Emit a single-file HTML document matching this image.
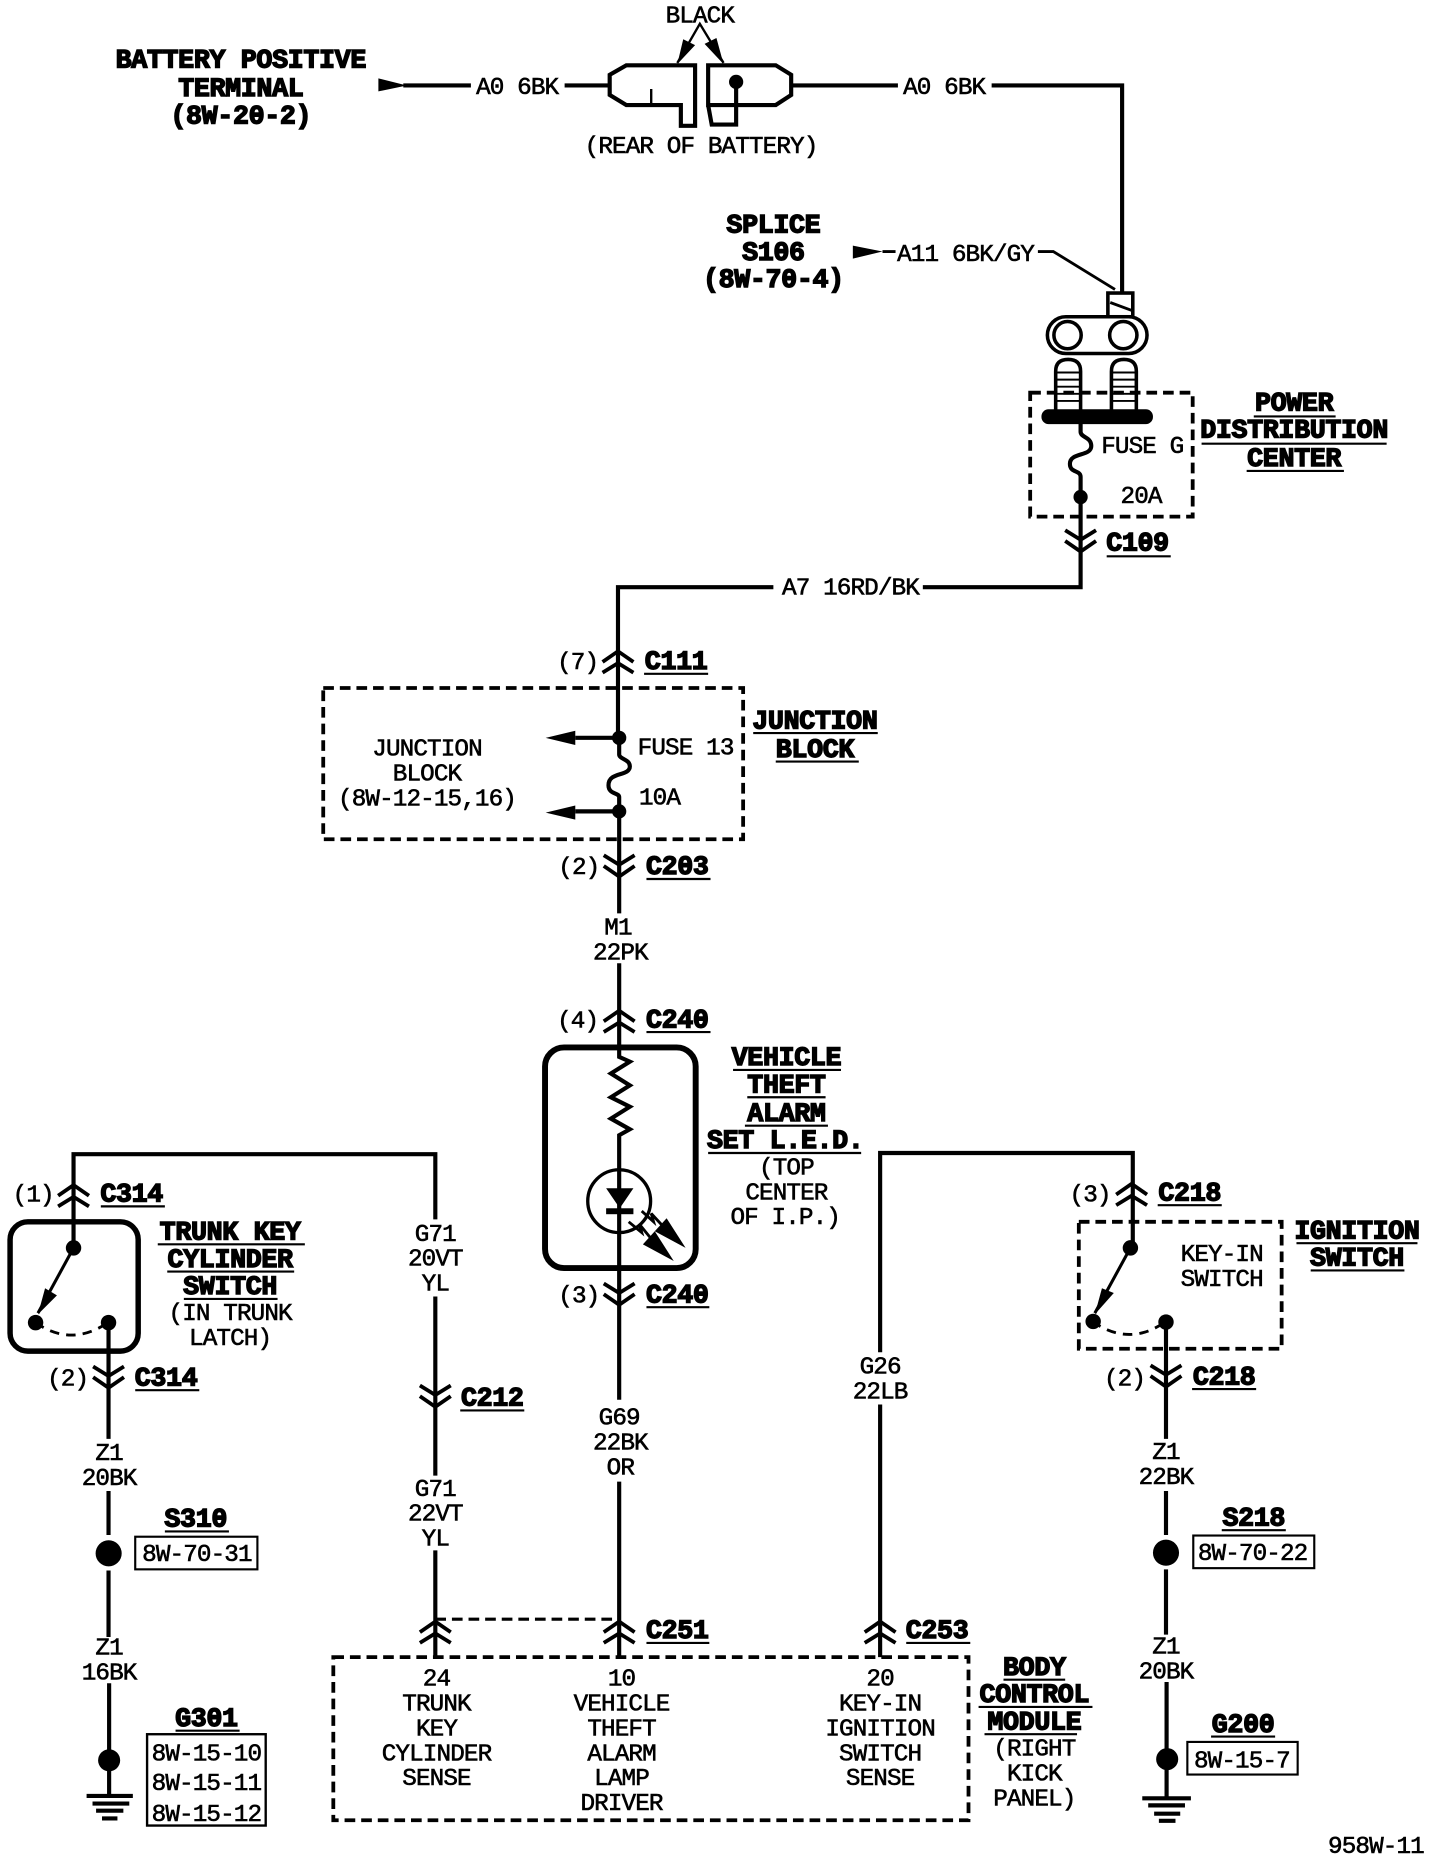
<!DOCTYPE html>
<html><head><meta charset="utf-8"><style>
html,body{margin:0;padding:0;background:#fff}
svg{display:block}
text{font-family:"Liberation Mono",monospace;text-anchor:middle;fill:#000}
.t{font-size:20.5px;stroke:#000;stroke-width:.5px;letter-spacing:-.75px}
.b{font-size:22.5px;font-weight:bold;stroke:#000;stroke-width:1.2px;letter-spacing:-.3px;transform:translateY(-1px)}
.w{fill:none;stroke:#000;stroke-width:3.5}
.k{fill:#000;stroke:none}
.h{fill:none;stroke:#000;stroke-width:3.2;stroke-dasharray:9 5}
.u{fill:none;stroke:#000;stroke-width:1.8}
</style></head><body>
<svg width="1440" height="1860" viewBox="0 0 1214 1568" xmlns="http://www.w3.org/2000/svg">
<defs>
<path id="d" d="M-13,-10 L0,-2 L13,-10 M-13,-1 L0,8 L13,-1" fill="none" stroke="#000" stroke-width="3.2"/>
<path id="p" d="M-13,10 L0,2 L13,10 M-13,1 L0,-8 L13,1" fill="none" stroke="#000" stroke-width="3.2"/>
</defs>

<!-- wires -->
<path class="w" d="M340 72H397M476 72H514M668 72H757M836 72H946V247"/>
<path class="k" d="M319 66L343 72L319 77Z"/>
<path class="w" d="M514 63L528 55H586V106H574V88.5H528L514 80Z"/>
<path class="w" d="M549 75V88" style="stroke-width:2"/>
<path class="w" d="M597 55H654L667 63V80L654 88.5H597ZM597 88.5L600 105H620.6V69"/>
<circle class="k" cx="620.6" cy="69" r="6"/>
<path class="w" d="M571 53L590 20L610 53" style="stroke-width:2"/>
<path class="k" d="M571 54L576 33L586 38ZM610 54L594 37L604 32Z"/>

<path class="k" d="M719 207L744 212L719 218Z"/>
<path class="w" d="M744 212H755M875 212H888L940 244" style="stroke-width:2.4"/>
<rect x="934" y="247" width="21" height="20" fill="#fff" stroke="#000" stroke-width="3"/>
<path class="w" d="M936 255L955 262" style="stroke-width:2.4"/>
<rect x="883" y="267" width="84" height="31" rx="15.5" fill="#fff" stroke="#000" stroke-width="3"/>
<circle cx="900" cy="282.5" r="11.5" fill="#fff" stroke="#000" stroke-width="3"/>
<circle cx="947" cy="282.5" r="11.5" fill="#fff" stroke="#000" stroke-width="3"/>
<path class="w" d="M890 346V313Q890 303 900.5 303Q911 303 911 313V346M937 346V313Q937 303 947.5 303Q958 303 958 313V346" style="stroke-width:3"/>
<path class="w" d="M890 314H911M890 320H911M890 326H911M890 332H911M890 338H911M937 314H958M937 320H958M937 326H958M937 332H958M937 338H958" style="stroke-width:1.6"/>
<rect class="h" x="868.5" y="331" width="137" height="104.5"/>
<rect class="k" x="878" y="345" width="94" height="12.5" rx="6"/>
<path class="w" d="M911 357V364C911 369 920 368 920 376C920 385 902 381 902 391C902 399 911 396 911 402V495H778M652 495H521V625"/>
<circle class="k" cx="911" cy="419" r="6"/>
<use href="#d" x="911" y="457"/>
<use href="#p" x="521" y="557"/>
<rect class="h" x="272.5" y="580" width="354" height="127.5"/>
<path class="w" d="M522 622V636C522 640 531 640 531 646C531 655 513 650 513 662C513 670 522 668 522 672V770M522 622H485M522 684H485"/>
<circle class="k" cx="522" cy="622" r="6"/>
<circle class="k" cx="522" cy="684" r="6"/>
<path class="k" d="M460 622L485 616V628ZM460 685L485 679V691Z"/>
<use href="#d" x="522" y="731"/>
<path class="w" d="M522 812V891L531 895L515 905L531 915L515 925L531 933L515 943L531 952L522 957V1180"/>
<use href="#p" x="522" y="860"/>
<rect x="459.5" y="883" width="127" height="186" rx="16" fill="none" stroke="#000" stroke-width="5"/>
<circle cx="522" cy="1012.6" r="26.5" fill="none" stroke="#000" stroke-width="2.8"/>
<path class="k" d="M511 1001.7H534L522.5 1018.6Z"/>
<rect class="k" x="511" y="1018.6" width="23" height="5"/>
<path class="w" d="M541 1021L551 1030L549 1023L562 1037" style="stroke-width:2.4"/>
<path class="k" d="M578 1052L552 1038L562 1027Z"/>
<path class="w" d="M530 1030L541 1039L539 1032L552 1048" style="stroke-width:2.4"/>
<path class="k" d="M568 1063L542 1049L552 1038Z"/>
<use href="#d" x="522" y="1092"/>
<path class="w" d="M522 1249V1397"/>
<use href="#p" x="522" y="1375"/>

<path class="w" d="M62 1052V973H367V1028M367 1093V1244M367 1307V1397"/>
<use href="#p" x="62" y="1007"/>
<rect x="8.5" y="1030" width="108" height="109" rx="15" fill="none" stroke="#000" stroke-width="4.6"/>
<circle class="k" cx="62" cy="1052" r="6.5"/>
<circle class="k" cx="30" cy="1115" r="6.5"/>
<circle class="k" cx="91.5" cy="1115" r="6.5"/>
<path class="w" d="M62 1052L32 1107" style="stroke-width:2.6"/>
<path class="k" d="M32 1108L38 1086L48 1092Z"/>
<path class="w" d="M30 1115Q60 1136 91 1115" stroke-dasharray="8 6" style="stroke-width:2.4"/>
<path class="w" d="M91.5 1115V1213M91.5 1257V1294M91.5 1324V1380M92 1419V1515" />
<use href="#d" x="91.5" y="1162"/>
<circle class="k" cx="91.6" cy="1309.5" r="11"/>
<circle class="k" cx="92" cy="1484" r="9.3"/>
<path class="w" d="M73 1514H112M78 1520.5H109M81 1526.5H104M86 1533H99"/>
<use href="#d" x="367" y="1178"/>
<use href="#p" x="367" y="1375"/>
<path class="h" d="M367 1365H522" style="stroke-width:2.6"/>

<path class="w" d="M742 1140V972H955V1052M742 1184V1397"/>
<use href="#p" x="742" y="1375"/>
<rect class="h" x="281" y="1397" width="535.5" height="137.5"/>
<use href="#p" x="954" y="1006"/>
<rect class="h" x="909.5" y="1030" width="171" height="107"/>
<circle class="k" cx="953" cy="1052" r="6.5"/>
<circle class="k" cx="921.6" cy="1114" r="6.5"/>
<circle class="k" cx="983" cy="1114.5" r="6.5"/>
<path class="w" d="M953 1052L923 1107" style="stroke-width:2.6"/>
<path class="k" d="M923 1108L929 1086L939 1090Z"/>
<path class="w" d="M921 1114Q952 1136 983 1114" stroke-dasharray="8 6" style="stroke-width:2.4"/>
<path class="w" d="M983 1115V1213M983 1257V1294M983 1323V1378M983.5 1418V1516"/>
<use href="#d" x="983" y="1161"/>
<circle class="k" cx="983" cy="1309" r="11"/>
<circle class="k" cx="984" cy="1483" r="9.3"/>
<path class="w" d="M963 1516H1004M968 1522H999M973 1529H995M977 1535H991"/>

<!-- reference boxes -->
<rect x="114" y="1295.5" width="103" height="27.5" fill="none" stroke="#000" stroke-width="1.8"/>
<rect x="124" y="1462" width="100" height="77" fill="none" stroke="#000" stroke-width="2"/>
<rect x="1006" y="1294.5" width="102" height="27.5" fill="none" stroke="#000" stroke-width="1.8"/>
<rect x="1001" y="1468.5" width="93" height="27.5" fill="none" stroke="#000" stroke-width="1.8"/>

<!-- underlines -->
<path class="u" d="M1057 351H1126M1013 374H1169M1051 397H1133M933 469H987M543 568H597M635 618H740M654 642H724M545 741H599M545 870H599M618 902H709M630 925H696M628 949H698M597 972H726M545 1102H598M85 1017H139M133 1049H257M141 1072H248M155 1095H234M114 1172H168M139 1291H193M148 1459H202M388 1189H442M545 1385H598M764 1385H818M846 1416H898M825 1439H921M830 1462H908M976 1016H1030M1093 1048H1195M1105 1071H1184M1005 1171H1059M1030 1290H1084M1021 1464H1075"/>

<!-- regular text -->
<g>
<text class="t" x="590" y="19">BLACK</text>
<text class="t" x="591" y="129">(REAR OF BATTERY)</text>
<text class="t" x="436" y="79">A0 6BK</text>
<text class="t" x="796" y="79">A0 6BK</text>
<text class="t" x="814" y="220">A11 6BK/GY</text>
<text class="t" x="963" y="382">FUSE G</text>
<text class="t" x="962" y="424">20A</text>
<text class="t" x="717" y="501">A7 16RD/BK</text>
<text class="t" x="487" y="564">(7)</text>
<text class="t" x="360" y="637">JUNCTION</text>
<text class="t" x="360" y="658">BLOCK</text>
<text class="t" x="360" y="679">(8W-12-15,16)</text>
<text class="t" x="578" y="636">FUSE 13</text>
<text class="t" x="556" y="678">10A</text>
<text class="t" x="488" y="737">(2)</text>
<text class="t" x="521" y="788">M1</text>
<text class="t" x="523" y="809">22PK</text>
<text class="t" x="487" y="866">(4)</text>
<text class="t" x="663" y="990">(TOP</text>
<text class="t" x="663" y="1011">CENTER</text>
<text class="t" x="662" y="1032">OF I.P.)</text>
<text class="t" x="488" y="1098">(3)</text>
<text class="t" x="522" y="1201">G69</text>
<text class="t" x="523" y="1222">22BK</text>
<text class="t" x="523" y="1243">OR</text>
<text class="t" x="28" y="1013">(1)</text>
<text class="t" x="194" y="1113">(IN TRUNK</text>
<text class="t" x="194" y="1134">LATCH)</text>
<text class="t" x="57" y="1168">(2)</text>
<text class="t" x="92" y="1231">Z1</text>
<text class="t" x="92" y="1252">20BK</text>
<text class="t" x="166" y="1316">8W-70-31</text>
<text class="t" x="92" y="1395">Z1</text>
<text class="t" x="92" y="1416">16BK</text>
<text class="t" x="174" y="1484">8W-15-10</text>
<text class="t" x="174" y="1509">8W-15-11</text>
<text class="t" x="174" y="1535">8W-15-12</text>
<text class="t" x="367" y="1046">G71</text>
<text class="t" x="367" y="1067">20VT</text>
<text class="t" x="367" y="1088">YL</text>
<text class="t" x="367" y="1261">G71</text>
<text class="t" x="367" y="1282">22VT</text>
<text class="t" x="367" y="1303">YL</text>
<text class="t" x="368" y="1421">24</text>
<text class="t" x="368" y="1442">TRUNK</text>
<text class="t" x="368" y="1463">KEY</text>
<text class="t" x="368" y="1484">CYLINDER</text>
<text class="t" x="368" y="1505">SENSE</text>
<text class="t" x="524" y="1421">10</text>
<text class="t" x="524" y="1442">VEHICLE</text>
<text class="t" x="524" y="1463">THEFT</text>
<text class="t" x="524" y="1484">ALARM</text>
<text class="t" x="524" y="1505">LAMP</text>
<text class="t" x="524" y="1526">DRIVER</text>
<text class="t" x="742" y="1421">20</text>
<text class="t" x="742" y="1442">KEY-IN</text>
<text class="t" x="742" y="1463">IGNITION</text>
<text class="t" x="742" y="1484">SWITCH</text>
<text class="t" x="742" y="1505">SENSE</text>
<text class="t" x="872" y="1480">(RIGHT</text>
<text class="t" x="872" y="1501">KICK</text>
<text class="t" x="872" y="1522">PANEL)</text>
<text class="t" x="742" y="1158">G26</text>
<text class="t" x="742" y="1179">22LB</text>
<text class="t" x="919" y="1013">(3)</text>
<text class="t" x="1030" y="1063">KEY-IN</text>
<text class="t" x="1030" y="1084">SWITCH</text>
<text class="t" x="948" y="1168">(2)</text>
<text class="t" x="983" y="1230">Z1</text>
<text class="t" x="983" y="1251">22BK</text>
<text class="t" x="1056" y="1315">8W-70-22</text>
<text class="t" x="983" y="1394">Z1</text>
<text class="t" x="983" y="1415">20BK</text>
<text class="t" x="1047" y="1490">8W-15-7</text>
<text class="t" x="1160" y="1562">958W-11</text>
</g>

<!-- bold text -->
<g>
<text class="b" x="203" y="58">BATTERY POSITIVE</text>
<text class="b" x="203" y="82">TERMINAL</text>
<text class="b" x="203" y="105">(8W-20-2)</text>
<text class="b" x="652" y="197">SPLICE</text>
<text class="b" x="652" y="220">S106</text>
<text class="b" x="652" y="243">(8W-70-4)</text>
<text class="b" x="1091" y="347">POWER</text>
<text class="b" x="1091" y="370">DISTRIBUTION</text>
<text class="b" x="1091" y="394">CENTER</text>
<text class="b" x="959" y="465">C109</text>
<text class="b" x="570" y="565">C111</text>
<text class="b" x="687" y="615">JUNCTION</text>
<text class="b" x="687" y="639">BLOCK</text>
<text class="b" x="571" y="738">C203</text>
<text class="b" x="571" y="867">C240</text>
<text class="b" x="663" y="899">VEHICLE</text>
<text class="b" x="663" y="922">THEFT</text>
<text class="b" x="663" y="946">ALARM</text>
<text class="b" x="662" y="969">SET L.E.D.</text>
<text class="b" x="571" y="1099">C240</text>
<text class="b" x="111" y="1014">C314</text>
<text class="b" x="194" y="1046">TRUNK KEY</text>
<text class="b" x="194" y="1069">CYLINDER</text>
<text class="b" x="194" y="1092">SWITCH</text>
<text class="b" x="140" y="1169">C314</text>
<text class="b" x="165" y="1288">S310</text>
<text class="b" x="174" y="1456">G301</text>
<text class="b" x="415" y="1186">C212</text>
<text class="b" x="571" y="1382">C251</text>
<text class="b" x="790" y="1382">C253</text>
<text class="b" x="872" y="1413">BODY</text>
<text class="b" x="872" y="1436">CONTROL</text>
<text class="b" x="872" y="1459">MODULE</text>
<text class="b" x="1003" y="1013">C218</text>
<text class="b" x="1144" y="1045">IGNITION</text>
<text class="b" x="1144" y="1068">SWITCH</text>
<text class="b" x="1032" y="1168">C218</text>
<text class="b" x="1057" y="1287">S218</text>
<text class="b" x="1048" y="1461">G200</text>
</g>
</svg>
</body></html>
